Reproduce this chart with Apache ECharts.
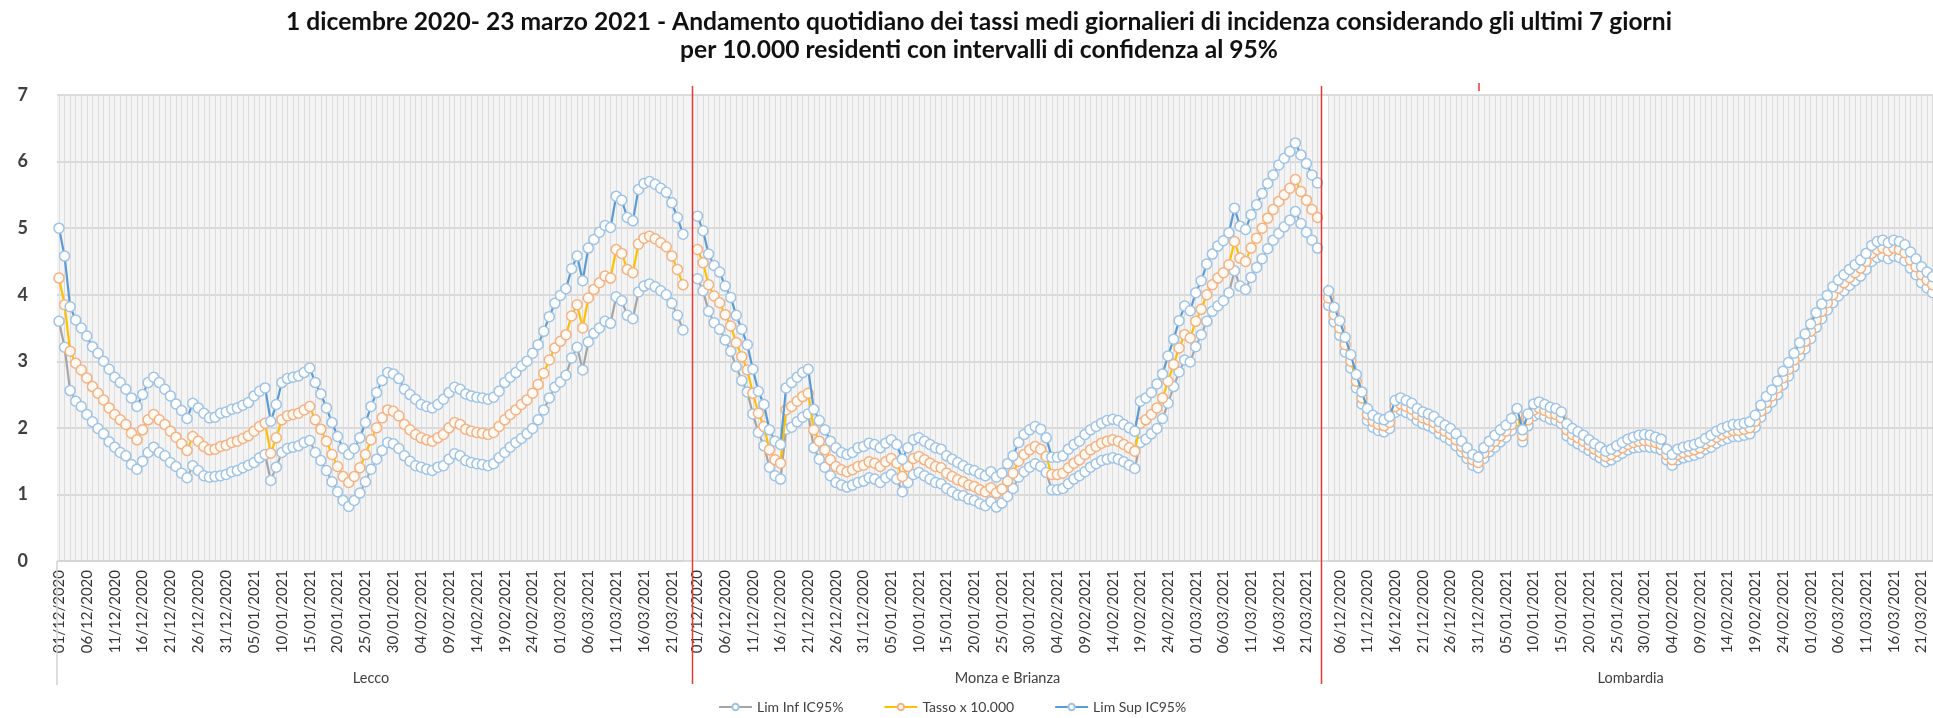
<!DOCTYPE html>
<html>
<head>
<meta charset="utf-8">
<script src="https://cdn.jsdelivr.net/npm/echarts@6/dist/echarts.min.js"></script>
<style>html,body{margin:0;padding:0;background:#fff}#c{width:1933px;height:718px}</style>
</head>
<body>
<div id="c"></div>
<script>
// ---- categories (dates 01/12/2020 .. 23/03/2021) ----
const dates = (function () {
  const out = [];
  const d = new Date(Date.UTC(2020, 11, 1));
  for (let i = 0; i < 113; i++) {
    const dd = String(d.getUTCDate()).padStart(2, '0');
    const mm = String(d.getUTCMonth() + 1).padStart(2, '0');
    out.push(dd + '/' + mm + '/' + d.getUTCFullYear());
    d.setUTCDate(d.getUTCDate() + 1);
  }
  return out;
})();
const panelNames = ['Lecco', 'Monza e Brianza', 'Lombardia'];
const seriesNames = ['Lim Inf IC95%', 'Tasso x 10.000', 'Lim Sup IC95%'];
const yTicks = [0, 1, 2, 3, 4, 5, 6, 7];

// ---- Lecco ----
const leccoTasso = [4.25,3.85,3.15,2.97,2.87,2.75,2.62,2.52,2.42,2.30,
2.20,2.12,2.05,1.92,1.82,1.97,2.12,2.20,2.12,2.05,
1.95,1.86,1.76,1.66,1.87,1.80,1.72,1.67,1.68,1.72,
1.74,1.78,1.80,1.84,1.88,1.95,2.02,2.07,1.62,1.85,
2.12,2.18,2.20,2.22,2.27,2.32,2.12,1.98,1.80,1.60,
1.42,1.27,1.18,1.27,1.40,1.60,1.82,2.00,2.15,2.27,
2.25,2.18,2.05,1.97,1.90,1.85,1.82,1.80,1.85,1.90,
2.00,2.08,2.05,1.98,1.95,1.93,1.92,1.90,1.93,2.02,
2.12,2.20,2.27,2.35,2.42,2.52,2.65,2.82,3.02,3.20,
3.30,3.40,3.68,3.85,3.50,3.95,4.08,4.18,4.28,4.25,
4.68,4.62,4.38,4.33,4.76,4.85,4.88,4.84,4.78,4.72,
4.58,4.38,4.15];
const leccoSup = [5.00,4.58,3.82,3.62,3.50,3.38,3.22,3.12,3.00,2.88,
2.76,2.68,2.58,2.45,2.32,2.50,2.68,2.76,2.68,2.58,
2.48,2.36,2.26,2.14,2.37,2.30,2.22,2.15,2.16,2.22,
2.24,2.28,2.30,2.34,2.38,2.48,2.55,2.60,2.10,2.35,
2.68,2.74,2.76,2.78,2.83,2.90,2.68,2.51,2.30,2.08,
1.87,1.69,1.60,1.69,1.85,2.08,2.32,2.53,2.71,2.83,
2.81,2.74,2.58,2.50,2.43,2.35,2.32,2.30,2.35,2.43,
2.53,2.61,2.58,2.51,2.48,2.46,2.45,2.43,2.46,2.55,
2.68,2.76,2.83,2.93,3.00,3.12,3.25,3.45,3.67,3.87,
3.99,4.09,4.39,4.58,4.21,4.70,4.83,4.94,5.04,5.01,
5.48,5.42,5.16,5.11,5.58,5.67,5.70,5.66,5.60,5.54,
5.38,5.16,4.91];
const leccoInf = [3.60,3.21,2.56,2.40,2.32,2.20,2.09,1.99,1.91,1.79,
1.71,1.63,1.58,1.45,1.38,1.50,1.63,1.71,1.63,1.58,
1.48,1.42,1.32,1.25,1.43,1.36,1.28,1.26,1.27,1.28,
1.30,1.34,1.36,1.40,1.44,1.48,1.55,1.60,1.21,1.41,
1.63,1.69,1.71,1.73,1.78,1.81,1.63,1.51,1.36,1.19,
1.04,0.91,0.82,0.91,1.02,1.19,1.38,1.53,1.66,1.78,
1.76,1.69,1.58,1.50,1.43,1.41,1.38,1.36,1.41,1.43,
1.53,1.61,1.58,1.51,1.48,1.46,1.45,1.43,1.46,1.55,
1.63,1.71,1.78,1.84,1.91,1.99,2.12,2.27,2.45,2.61,
2.69,2.79,3.05,3.21,2.87,3.29,3.42,3.50,3.60,3.57,
3.97,3.91,3.69,3.64,4.04,4.13,4.16,4.12,4.06,4.00,
3.87,3.69,3.47];

// ---- Monza e Brianza ----
const monzaTasso = [4.68,4.48,4.15,3.98,3.88,3.70,3.53,3.28,3.07,2.87,
2.52,2.22,2.02,1.67,1.52,1.47,2.27,2.32,2.40,2.47,
2.52,1.97,1.80,1.67,1.52,1.42,1.37,1.34,1.37,1.42,
1.44,1.49,1.47,1.42,1.49,1.54,1.47,1.27,1.42,1.54,
1.57,1.52,1.47,1.42,1.40,1.32,1.27,1.22,1.19,1.14,
1.12,1.07,1.04,1.10,1.02,1.08,1.20,1.32,1.50,1.60,
1.67,1.72,1.68,1.57,1.30,1.30,1.32,1.40,1.47,1.52,
1.60,1.67,1.72,1.77,1.80,1.82,1.80,1.75,1.70,1.65,
2.07,2.12,2.20,2.30,2.45,2.70,2.95,3.20,3.40,3.35,
3.60,3.78,4.00,4.15,4.25,4.33,4.45,4.80,4.55,4.50,
4.70,4.85,5.00,5.15,5.28,5.40,5.50,5.60,5.73,5.55,
5.42,5.28,5.16];
const monzaSup = [5.18,4.96,4.61,4.44,4.34,4.13,3.96,3.69,3.48,3.25,
2.88,2.55,2.35,1.97,1.80,1.75,2.60,2.68,2.76,2.83,
2.88,2.28,2.11,1.97,1.80,1.70,1.63,1.60,1.63,1.70,
1.72,1.77,1.75,1.70,1.77,1.82,1.75,1.53,1.70,1.82,
1.85,1.80,1.75,1.70,1.68,1.58,1.53,1.48,1.43,1.38,
1.36,1.31,1.28,1.34,1.26,1.32,1.46,1.58,1.78,1.90,
1.97,2.02,1.98,1.85,1.56,1.56,1.58,1.68,1.75,1.80,
1.90,1.97,2.02,2.07,2.11,2.13,2.11,2.05,2.00,1.95,
2.40,2.45,2.53,2.66,2.81,3.08,3.33,3.61,3.83,3.76,
4.03,4.21,4.46,4.61,4.73,4.81,4.93,5.30,5.03,4.98,
5.20,5.35,5.52,5.67,5.80,5.95,6.05,6.15,6.28,6.10,
5.97,5.80,5.68];
const monzaInf = [4.24,4.06,3.75,3.58,3.48,3.32,3.15,2.92,2.71,2.54,
2.21,1.93,1.73,1.41,1.28,1.23,1.98,2.01,2.09,2.16,
2.21,1.70,1.53,1.41,1.28,1.18,1.14,1.11,1.14,1.18,
1.20,1.25,1.23,1.18,1.25,1.30,1.23,1.04,1.18,1.30,
1.33,1.28,1.23,1.18,1.16,1.09,1.04,0.99,0.98,0.93,
0.91,0.86,0.83,0.89,0.81,0.87,0.97,1.09,1.26,1.34,
1.41,1.46,1.42,1.33,1.07,1.07,1.09,1.16,1.23,1.28,
1.34,1.41,1.46,1.51,1.53,1.55,1.53,1.49,1.44,1.39,
1.78,1.83,1.91,1.99,2.14,2.37,2.62,2.84,3.02,2.99,
3.22,3.40,3.60,3.75,3.83,3.91,4.03,4.36,4.13,4.08,
4.26,4.41,4.54,4.69,4.82,4.92,5.02,5.12,5.25,5.07,
4.94,4.82,4.70];

// ---- Lombardia ----
const lombTasso = [4.40,4.30,4.15,3.95,3.70,3.50,3.25,3.00,2.70,2.45,
2.20,2.10,2.05,2.03,2.08,2.32,2.36,2.32,2.28,2.20,
2.15,2.12,2.08,2.00,1.95,1.90,1.82,1.72,1.62,1.52,
1.48,1.62,1.72,1.80,1.88,1.95,2.05,2.20,1.88,2.12,
2.27,2.30,2.26,2.22,2.20,2.15,1.97,1.90,1.85,1.80,
1.74,1.68,1.63,1.57,1.60,1.65,1.70,1.75,1.78,1.80,
1.81,1.80,1.78,1.75,1.60,1.52,1.60,1.63,1.65,1.67,
1.70,1.76,1.80,1.86,1.90,1.93,1.96,1.96,1.98,2.00,
2.10,2.25,2.38,2.48,2.60,2.75,2.88,3.02,3.18,3.30,
3.45,3.62,3.75,3.88,4.00,4.10,4.18,4.26,4.33,4.40,
4.50,4.62,4.68,4.70,4.66,4.70,4.68,4.63,4.52,4.42,
4.30,4.22,4.15];
const lombSup = [4.52,4.42,4.27,4.06,3.81,3.61,3.36,3.10,2.80,2.54,
2.29,2.19,2.14,2.12,2.17,2.41,2.45,2.41,2.37,2.29,
2.24,2.21,2.17,2.09,2.04,1.99,1.91,1.80,1.70,1.60,
1.56,1.70,1.80,1.89,1.97,2.04,2.14,2.29,1.97,2.21,
2.36,2.39,2.35,2.31,2.29,2.24,2.06,1.99,1.94,1.89,
1.82,1.76,1.71,1.65,1.68,1.73,1.78,1.83,1.86,1.89,
1.90,1.89,1.86,1.83,1.68,1.60,1.68,1.71,1.73,1.75,
1.78,1.84,1.89,1.95,1.99,2.02,2.05,2.05,2.07,2.09,
2.19,2.34,2.47,2.57,2.70,2.85,2.98,3.12,3.28,3.41,
3.56,3.73,3.86,3.99,4.12,4.22,4.30,4.38,4.45,4.52,
4.62,4.74,4.80,4.82,4.78,4.82,4.80,4.75,4.64,4.54,
4.42,4.34,4.27];
const lombInf = [4.28,4.18,4.03,3.84,3.59,3.39,3.14,2.90,2.60,2.36,
2.11,2.01,1.96,1.94,1.99,2.23,2.27,2.23,2.19,2.11,
2.06,2.03,1.99,1.91,1.86,1.81,1.73,1.64,1.54,1.44,
1.40,1.54,1.64,1.71,1.79,1.86,1.96,2.11,1.79,2.03,
2.18,2.21,2.17,2.13,2.11,2.06,1.88,1.81,1.76,1.71,
1.66,1.60,1.55,1.49,1.52,1.57,1.62,1.67,1.70,1.71,
1.72,1.71,1.70,1.67,1.52,1.44,1.52,1.55,1.57,1.59,
1.62,1.68,1.71,1.77,1.81,1.84,1.87,1.87,1.89,1.91,
2.01,2.16,2.29,2.39,2.50,2.65,2.78,2.92,3.08,3.19,
3.34,3.51,3.64,3.77,3.88,3.98,4.06,4.14,4.21,4.28,
4.38,4.50,4.56,4.58,4.54,4.58,4.56,4.51,4.40,4.30,
4.18,4.10,4.03];

// ---- layout ----
const TOP = 95, AXIS_Y = 561, H = 718;
const panels = [
  { left: 59, width: 624, min: 0, bgL: 57, bgR: 692, inf: leccoInf, t: leccoTasso, sup: leccoSup },
  { left: 697.5, width: 620, min: 0, bgL: 692, bgR: 1321, inf: monzaInf, t: monzaTasso, sup: monzaSup },
  { left: 1328.6, width: 604, min: 3, bgL: 1328, bgR: 1933, inf: lombInf, t: lombTasso, sup: lombSup }
];
const redX = [692.5, 1321.5];

const FONT = 'Lato, "Open Sans", sans-serif';
const lineColors = ['#a5a5a5', '#ffc000', '#5b9bd5'];
const borderColors = ['#9dc3e6', '#f4b183', '#9dc3e6'];
const fillColors = ['#ffffff', '#fffaf3', '#ffffff'];

const grids = [{ left: 57, right: 0, top: TOP, bottom: H - AXIS_Y }];
const xAxes = [{ gridIndex: 0, type: 'value', show: false, min: 0, max: 1 }];
const yAxes = [{
  gridIndex: 0, type: 'value', min: 0, max: 7, interval: 1,
  axisLine: { show: false }, axisTick: { show: false },
  axisLabel: { margin: 29, fontSize: 18, fontWeight: 'bold', color: '#3f3f3f', fontFamily: FONT,
    formatter: v => yTicks.indexOf(v) >= 0 ? String(v) : '' },
  splitLine: { lineStyle: { color: '#d2d2d2', width: 1.5 } }
}];
const series = [];
panels.forEach((p, i) => {
  const gi = i + 1;
  grids.push({ left: p.left, width: p.width, top: TOP, bottom: H - AXIS_Y });
  xAxes.push({
    gridIndex: gi, type: 'category', data: dates, boundaryGap: false, min: p.min,
    name: panelNames[i], nameLocation: 'middle', nameGap: 110,
    nameTextStyle: { fontSize: 14.5, color: '#404040', fontFamily: FONT },
    axisLine: { show: true, lineStyle: { color: '#d2d2d2', width: 1.5 } },
    axisTick: { show: false },
    axisLabel: { rotate: 90, margin: 9, fontSize: 15, color: '#333333', fontFamily: FONT,
      interval: (idx) => idx % 5 === 0 && idx >= p.min },
    splitLine: { show: true, interval: 0, lineStyle: { color: '#dcdcdc', width: 1 } }
  });
  yAxes.push({ gridIndex: gi, type: 'value', min: 0, max: 7, interval: 1, show: false, splitLine: { show: false } });
  [p.inf, p.t, p.sup].forEach((arr, k) => {
    series.push({
      type: 'line', name: seriesNames[k], xAxisIndex: gi, yAxisIndex: gi, data: arr,
      symbol: 'circle', symbolSize: 10, showAllSymbol: true,
      lineStyle: { color: lineColors[k], width: 2.2 },
      itemStyle: { color: fillColors[k], borderColor: borderColors[k], borderWidth: 1.5 },
      emphasis: { disabled: true }, z: 2 + k
    });
  });
});

const graphics = [];
panels.forEach(p => {
  graphics.push({ type: 'rect', z: -10, silent: true,
    shape: { x: p.bgL, y: TOP, width: p.bgR - p.bgL, height: AXIS_Y - TOP },
    style: { fill: '#f4f4f4' } });
});
graphics.push({ type: 'line', z: 50, silent: true, shape: { x1: 57, y1: AXIS_Y, x2: 57, y2: 685 }, style: { stroke: '#d2d2d2', lineWidth: 1.5 } });
redX.forEach(x => graphics.push({ type: 'line', z: 50, silent: true,
  shape: { x1: x, y1: 86, x2: x, y2: 684 }, style: { stroke: '#e53935', lineWidth: 1.5 } }));
graphics.push({ type: 'line', z: 50, silent: true, shape: { x1: 1479, y1: 83, x2: 1479, y2: 91 }, style: { stroke: '#e53935', lineWidth: 1.5 } });
// title as two centred text lines
const titleLines = [
  '1 dicembre 2020- 23 marzo 2021 - Andamento quotidiano dei tassi medi giornalieri di incidenza considerando gli ultimi 7 giorni',
  'per 10.000 residenti con intervalli di confidenza al 95%'
];
titleLines.forEach((t, i) => graphics.push({
  type: 'text', z: 50, silent: true, x: 979, y: 22 + i * 28.5,
  style: { text: t, fill: '#111111', font: 'bold 24.6px ' + FONT, textAlign: 'center', textVerticalAlign: 'middle' }
}));

const chart = echarts.init(document.getElementById('c'), null, { renderer: 'canvas' });
chart.setOption({
  animation: false,
  backgroundColor: '#ffffff',
  legend: {
    data: seriesNames, left: 713, top: 695, itemWidth: 33, itemHeight: 8, itemGap: 40,
    textStyle: { fontSize: 14, color: '#404040', fontFamily: FONT }
  },
  grid: grids, xAxis: xAxes, yAxis: yAxes, series: series,
  graphic: graphics
});
</script>
</body>
</html>
